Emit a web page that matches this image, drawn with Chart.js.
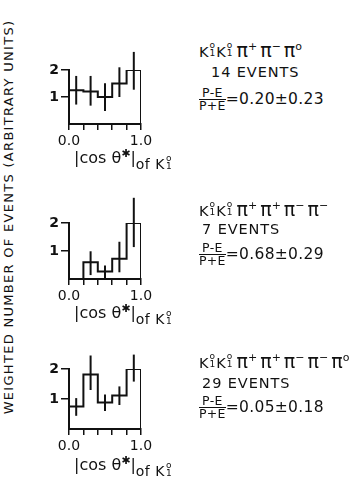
<!DOCTYPE html>
<html>
<head>
<meta charset="utf-8">
<script src="https://cdn.jsdelivr.net/npm/chart.js"></script>
<style>
  body { margin: 0; background: #fff; }
  #page { position: relative; width: 361px; height: 480px; overflow: hidden; font-family: "DejaVu Sans", sans-serif; color: #111; }
  canvas { position: absolute; }
  .t { position: absolute; white-space: nowrap; line-height: 1; }
  .ytitle { left: 8px; top: 217px; font-size: 13px; letter-spacing: 1.3px; transform: translate(-50%, -50%) rotate(-90deg); }
  .xt { font-size: 16px; }
  .xt .of { font-size: 14px; letter-spacing: 0.5px; position: relative; top: 6px; }
  .ss { display: inline-flex; flex-direction: column; font-size: 9px; line-height: 8px; vertical-align: top; margin-left: 1px; margin-right: 1px; }
  .formula { font-size: 14.5px; }
  .formula .pi { font-size: 19px; margin-left: 3px; }
  .formula sup { font-size: 11px; vertical-align: 7px; }
  .events { font-size: 14.5px; letter-spacing: 0.9px; }
  .frac { display: inline-flex; flex-direction: column; font-size: 12.5px; line-height: 12px; vertical-align: middle; text-align: center; }
  .frac .num { border-bottom: 1.5px solid #111; padding: 0 1px; }
  .ratio { font-size: 15.5px; letter-spacing: 0.3px; }
</style>
</head>
<body>
<div id="page">
  <div class="t ytitle">WEIGHTED NUMBER OF EVENTS (ARBITRARY UNITS)</div>
</div>
<script>
// bins of |cos theta*| (5 bins of 0.2)
const binEdges = [0, 0.2, 0.4, 0.6, 0.8, 1.0];
const xTickLabels = ['0.0', '', '', '', '', '1.0'];
const yTickValues = [1, 2];

// K1K1 pi+ pi- pi0
const heights1 = [1.25, 1.2, 1.0, 1.5, 2.0];
const errLow1 = [0.72, 0.68, 0.48, 1.0, 1.27];
const errHigh1 = [1.78, 1.78, 1.51, 2.1, 2.67];

// K1K1 pi+ pi+ pi- pi-
const heights2 = [0, 0.6, 0.27, 0.72, 2.0];
const errLow2 = [null, 0.14, 0.0, 0.24, 1.14];
const errHigh2 = [null, 0.99, 0.48, 1.33, 2.9];

// K1K1 pi+ pi+ pi- pi- pi0
const heights3 = [0.75, 1.82, 0.88, 1.12, 2.0];
const errLow3 = [0.44, 1.3, 0.6, 0.8, 1.58];
const errHigh3 = [1.03, 2.45, 1.15, 1.42, 2.48];

const pionCharges = [['+', '−', 'o'], ['+', '+', '−', '−'], ['+', '+', '−', '−', 'o']];
const eventCounts = [14, 7, 29];
const ratios = ['0.20±0.23', '0.68±0.29', '0.05±0.18'];

// layout of the three panels (pixel rows of y=2 and y=0)
const panelTop = [70, 223, 369];
const panelBottom = [124, 279, 429];
const ink = '#111';

const errorBars = {
    id: 'errorBars',
    afterDatasetsDraw(chart, args, opts) {
        const { ctx, scales: { x, y } } = chart;
        ctx.save();
        ctx.strokeStyle = ink;
        ctx.lineWidth = 2;
        opts.low.forEach((lo, i) => {
            if (lo === null) return;
            const cx = x.getPixelForValue((binEdges[i] + binEdges[i + 1]) / 2);
            ctx.beginPath();
            ctx.moveTo(cx, y.getPixelForValue(lo));
            ctx.lineTo(cx, y.getPixelForValue(opts.high[i]));
            ctx.stroke();
        });
        ctx.restore();
    }
};

function stepPoints(heights) {
    const last = binEdges[binEdges.length - 1];
    const pts = heights.map((h, i) => ({ x: binEdges[i], y: h }));
    pts.push({ x: last, y: heights[heights.length - 1] });
    pts.push({ x: last, y: 0 });
    return pts;
}

function makePanel(idx, heights, low, high) {
    const page = document.getElementById('page');
    const padTop = 34, axisH = 28;
    const canvas = document.createElement('canvas');
    const w = 150, h = padTop + (panelBottom[idx] - panelTop[idx]) + axisH;
    canvas.width = w; canvas.height = h;
    canvas.style.left = '20px';
    canvas.style.top = (panelTop[idx] - padTop) + 'px';
    page.appendChild(canvas);

    new Chart(canvas, {
        type: 'line',
        data: {
            datasets: [{
                data: stepPoints(heights),
                stepped: 'before',
                borderColor: ink,
                borderWidth: 2,
                pointRadius: 0,
                fill: false
            }]
        },
        options: {
            responsive: false,
            animation: false,
            devicePixelRatio: 1,
            layout: { padding: { top: padTop, right: w - 121, left: 0, bottom: 0 } },
            plugins: {
                legend: { display: false },
                tooltip: { enabled: false },
                errorBars: { low, high }
            },
            scales: {
                x: {
                    type: 'linear', min: 0, max: 1,
                    afterBuildTicks: s => { s.ticks = binEdges.map(v => ({ value: v })); },
                    afterFit: s => { s.height = axisH; },
                    ticks: {
                        autoSkip: false, maxRotation: 0, padding: 3,
                        color: ink, font: { family: 'DejaVu Sans', size: 14 },
                        callback: (v, i) => xTickLabels[i]
                    },
                    grid: { drawOnChartArea: false, tickLength: 6, color: ink, lineWidth: 1.5 },
                    border: { display: true, color: ink, width: 2 }
                },
                y: {
                    type: 'linear', min: 0, max: 2,
                    afterBuildTicks: s => { s.ticks = yTickValues.map(v => ({ value: v })); },
                    afterFit: s => { s.width = 49; },
                    ticks: {
                        padding: 2, color: ink,
                        font: { family: 'DejaVu Sans', size: 14, weight: 'bold' },
                        callback: v => String(v)
                    },
                    grid: { drawOnChartArea: false, tickLength: 8, color: ink, lineWidth: 1.5 },
                    border: { display: true, color: ink, width: 2 }
                }
            }
        },
        plugins: [errorBars]
    });
}

makePanel(0, heights1, errLow1, errHigh1);
makePanel(1, heights2, errLow2, errHigh2);
makePanel(2, heights3, errLow3, errHigh3);

// annotations
const K1 = 'K<span class="ss"><span>o</span><span>1</span></span>';
const formulaTop = [41, 200, 352];
const eventsTop = [65, 222, 376];
const fracTop = [87, 242, 395];
const xTitleTop = [148, 303, 455];

function addText(cls, html, left, top) {
    const d = document.createElement('div');
    d.className = 't ' + cls;
    d.innerHTML = html;
    d.style.left = left + 'px';
    d.style.top = top + 'px';
    document.getElementById('page').appendChild(d);
}

eventCounts.forEach((n, i) => {
    const pions = pionCharges[i].map(c => '<span class="pi">π</span><sup>' + c + '</sup>').join('');
    addText('formula', K1 + K1 + pions, 199, formulaTop[i]);
    addText('events', n + ' EVENTS', i === 0 ? 211 : 202, eventsTop[i]);
    addText('ratio', '<span class="frac"><span class="num">P-E</span><span>P+E</span></span>=' + ratios[i], 199, fracTop[i]);
    addText('xt', '|cos θ<sup style="font-size:11px">✱</sup>|<span class="of">of ' + K1 + '</span>', 74, xTitleTop[i]);
});
</script>
</body>
</html>
